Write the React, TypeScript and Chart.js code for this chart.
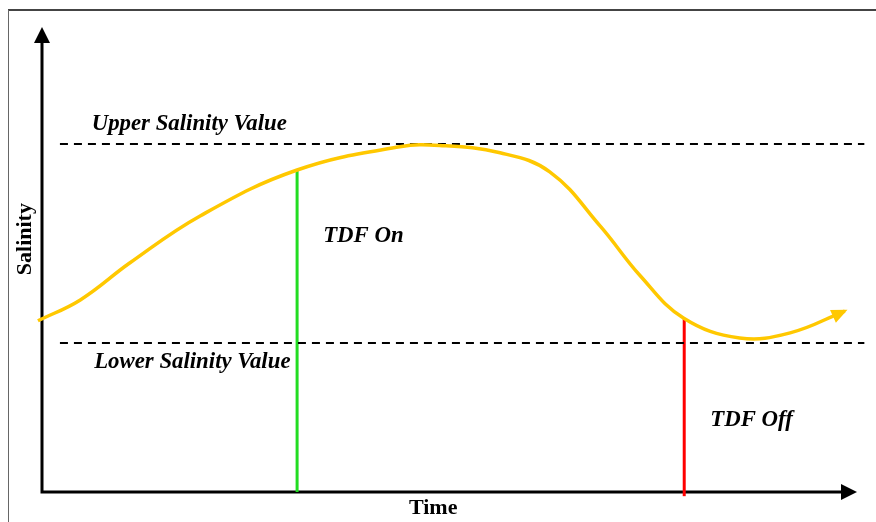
import React, { useEffect, useRef } from "react";
import { Chart, registerables } from "chart.js";

Chart.register(...registerables);

// Time (0-100 along the x axis) and salinity (0-100 along the y axis)
const curveTime = [-0.5, 4.7, 10.8, 19.4, 31.3, 43.9, 48.8, 56.2, 62.3, 68.5, 73.4, 78.7, 85.6, 91.8, 98.5];
const curveSalinity = [36.9, 41.4, 49.4, 59.5, 69.4, 74.4, 74.7, 73.1, 69.0, 57.3, 46.6, 37.5, 33.2, 34.3, 39.0];

const upperSalinity = 75;
const lowerSalinity = 32.1;
const thresholdSpan = [2.2, 100.9];

const tdfOnTime = 31.3;
const tdfOnSalinity = 69.4;
const tdfOffTime = 78.8;
const tdfOffSalinity = 37.5;

const annotationTexts = ["Upper Salinity Value", "Lower Salinity Value", "TDF On", "TDF Off"];
const annotationTime = [6.1, 6.4, 34.5, 82.0];
const annotationSalinity = [79.3, 28.0, 55.2, 15.5];

const xTitle = "Time";
const yTitle = "Salinity";

const FONT_FAMILY = '"Liberation Serif", "Times New Roman", serif';
const GOLD = "#FFC800";

function arrowHead(ctx: CanvasRenderingContext2D, tipX: number, tipY: number, angle: number, len: number, half: number, color: string) {
  ctx.save();
  ctx.translate(tipX, tipY);
  ctx.rotate(angle);
  ctx.beginPath();
  ctx.moveTo(0, 0);
  ctx.lineTo(-len, -half);
  ctx.lineTo(-len, half);
  ctx.closePath();
  ctx.fillStyle = color;
  ctx.fill();
  ctx.restore();
}

const decorPlugin = {
  id: "decor",
  beforeDatasetsDraw(chart: any) {
    const ctx: CanvasRenderingContext2D = chart.ctx;
    const xs = chart.scales.x;
    const ys = chart.scales.y;
    const x0 = xs.getPixelForValue(0);
    const y0 = ys.getPixelForValue(0);
    const xTip = xs.getPixelForValue(100);
    const yTip = ys.getPixelForValue(100.2);
    ctx.save();
    // frame
    ctx.strokeStyle = "#444";
    ctx.lineWidth = 2;
    ctx.beginPath();
    ctx.moveTo(8, 10);
    ctx.lineTo(chart.width, 10);
    ctx.stroke();
    ctx.strokeStyle = "#666";
    ctx.lineWidth = 1;
    ctx.beginPath();
    ctx.moveTo(8.5, 10);
    ctx.lineTo(8.5, chart.height);
    ctx.stroke();
    // axes
    ctx.strokeStyle = "#000";
    ctx.lineWidth = 3;
    ctx.beginPath();
    ctx.moveTo(x0, y0);
    ctx.lineTo(x0, yTip + 10);
    ctx.moveTo(x0 - 1.5, y0);
    ctx.lineTo(xTip - 10, y0);
    ctx.stroke();
    arrowHead(ctx, x0, yTip, -Math.PI / 2, 16, 8, "#000");
    arrowHead(ctx, xTip, y0, 0, 16, 8, "#000");
    // titles
    ctx.fillStyle = "#000";
    ctx.font = `bold 22px ${FONT_FAMILY}`;
    ctx.textAlign = "center";
    ctx.textBaseline = "middle";
    ctx.fillText(xTitle, xs.getPixelForValue(48), y0 + 16);
    ctx.save();
    ctx.translate(25, ys.getPixelForValue(54.5));
    ctx.rotate(-Math.PI / 2);
    ctx.fillText(yTitle, 0, 0);
    ctx.restore();
    ctx.restore();
  },
  afterDatasetsDraw(chart: any) {
    const ctx: CanvasRenderingContext2D = chart.ctx;
    const xs = chart.scales.x;
    const ys = chart.scales.y;
    ctx.save();
    ctx.fillStyle = "#000";
    ctx.font = `italic bold 22.8px ${FONT_FAMILY}`;
    ctx.textAlign = "left";
    ctx.textBaseline = "middle";
    annotationTexts.forEach((t, i) => {
      ctx.fillText(t, xs.getPixelForValue(annotationTime[i]), ys.getPixelForValue(annotationSalinity[i]));
    });
    // arrow at curve end
    const n = curveTime.length;
    const tx = xs.getPixelForValue(curveTime[n - 1]);
    const ty = ys.getPixelForValue(curveSalinity[n - 1]);
    const px = xs.getPixelForValue(curveTime[n - 2]);
    const py = ys.getPixelForValue(curveSalinity[n - 2]);
    const ang = Math.atan2(ty - py, tx - px) - 0.05;
    arrowHead(ctx, tx + Math.cos(ang) * 3, ty + Math.sin(ang) * 3, ang, 16, 7, GOLD);
    ctx.restore();
  },
};

export default function App() {
  const ref = useRef<HTMLCanvasElement | null>(null);
  useEffect(() => {
    if (!ref.current) return;
    const chart = new Chart(ref.current, {
      type: "line",
      data: {
        datasets: [
          {
            data: curveTime.map((t, i) => ({ x: t, y: curveSalinity[i] })),
            borderColor: GOLD,
            borderWidth: 3.5,
            pointRadius: 0,
            tension: 0.4,
            clip: false,
          } as any,
          {
            data: thresholdSpan.map((t) => ({ x: t, y: upperSalinity })),
            borderColor: "#000",
            borderWidth: 2,
            borderDash: [8, 6],
            pointRadius: 0,
            clip: false,
          },
          {
            data: thresholdSpan.map((t) => ({ x: t, y: lowerSalinity })),
            borderColor: "#000",
            borderWidth: 2,
            borderDash: [8, 6],
            pointRadius: 0,
            clip: false,
          },
          {
            data: [
              { x: tdfOnTime, y: 0 },
              { x: tdfOnTime, y: tdfOnSalinity },
            ],
            borderColor: "#22DD22",
            borderWidth: 3,
            pointRadius: 0,
            clip: false,
          },
          {
            data: [
              { x: tdfOffTime, y: -0.9 },
              { x: tdfOffTime, y: tdfOffSalinity },
            ],
            borderColor: "#FF0000",
            borderWidth: 3,
            pointRadius: 0,
            clip: false,
          },
        ],
      },
      options: {
        animation: false,
        responsive: false,
        maintainAspectRatio: false,
        layout: { padding: { left: 42, right: 19, top: 28, bottom: 30 } },
        plugins: { legend: { display: false }, tooltip: { enabled: false } },
        scales: {
          x: { type: "linear", min: 0, max: 100, display: false },
          y: { type: "linear", min: 0, max: 100, display: false },
        },
      },
      plugins: [decorPlugin],
    });
    return () => chart.destroy();
  }, []);
  return (
    <div style={{ position: "fixed", left: 0, top: 0, width: 876, height: 522, background: "#fff" }}>
      <canvas ref={ref} width={876} height={522} style={{ display: "block", width: 876, height: 522 }} />
    </div>
  );
}
